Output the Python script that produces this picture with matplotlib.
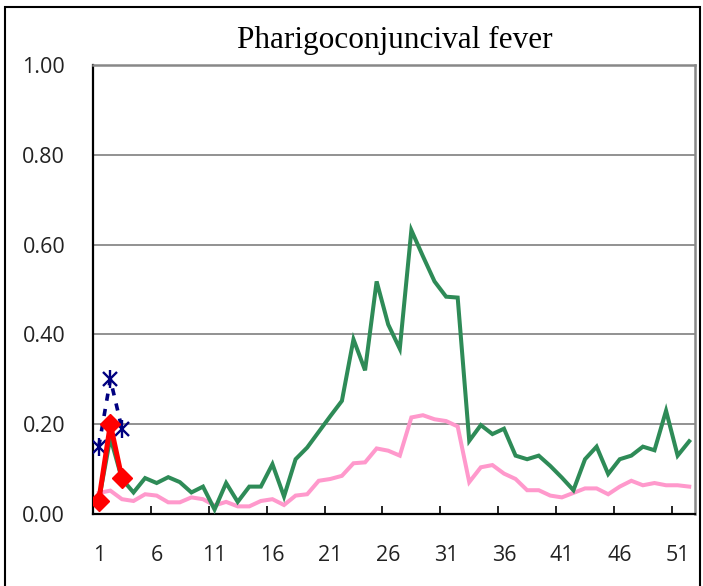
import matplotlib
matplotlib.use("Agg")
import matplotlib.pyplot as plt
from matplotlib.patches import Rectangle

weeks = list(range(1, 53))
green = [0.03, 0.17, 0.078, 0.048, 0.08, 0.069, 0.082, 0.071, 0.048, 0.061,
         0.01, 0.069, 0.027, 0.061, 0.061, 0.111, 0.039, 0.122, 0.148, 0.183,
         0.218, 0.252, 0.389, 0.32, 0.518, 0.422, 0.368, 0.632, 0.574, 0.518,
         0.484, 0.482, 0.163, 0.198, 0.178, 0.19, 0.13, 0.122, 0.13, 0.107,
         0.081, 0.053, 0.122, 0.15, 0.089, 0.122, 0.13, 0.15, 0.142, 0.23,
         0.13, 0.162]
pink = [0.047, 0.052, 0.033, 0.029, 0.044, 0.041, 0.026, 0.026, 0.037, 0.033,
        0.019, 0.027, 0.017, 0.017, 0.029, 0.033, 0.02, 0.041, 0.044, 0.074,
        0.078, 0.085, 0.113, 0.115, 0.146, 0.141, 0.13, 0.215, 0.22, 0.211,
        0.207, 0.195, 0.071, 0.104, 0.109, 0.09, 0.078, 0.053, 0.053, 0.041,
        0.037, 0.047, 0.057, 0.057, 0.044, 0.061, 0.074, 0.064, 0.069, 0.064,
        0.064, 0.061]
red_weeks = [1, 2, 3]
red = [0.03, 0.20, 0.08]
navy_weeks = [1, 2, 3]
navy = [0.15, 0.30, 0.19]

title = "Pharigoconjuncival fever"
xtick_labels = [1, 6, 11, 16, 21, 26, 31, 36, 41, 46, 51]
ytick_vals = [0.0, 0.2, 0.4, 0.6, 0.8, 1.0]

W, H = 703, 586
fig = plt.figure(figsize=(W / 100, H / 100), dpi=100)
fig.patch.set_facecolor("white")
left, right, top, bottom = 93, 695, 65, 514
ax = fig.add_axes([left / W, 1 - bottom / H, (right - left) / W, (bottom - top) / H])

ax.set_xlim(0.5, 52.5)
ax.set_ylim(0, 1.0)

for v in ytick_vals[1:-1]:
    ax.axhline(v, color="#7f7f7f", lw=1.2, zorder=1)

ax.plot(weeks, pink, color="#FF99CC", lw=2.9, zorder=3, solid_joinstyle="miter")
ax.plot(weeks, green, color="#2E8B57", lw=2.9, zorder=4, solid_joinstyle="miter")
ax.plot(navy_weeks, navy, color="#000080", lw=2.6, ls=(0, (2.0, 2.3)), zorder=5)
ax.plot(navy_weeks, navy, ls="none", marker="x", ms=10.5, mew=1.7, color="#000080", zorder=6)
ax.plot(navy_weeks, navy, ls="none", marker="|", ms=13, mew=1.7, color="#000080", zorder=6)
ax.plot(red_weeks, red, color="#FF0000", lw=3.6, marker="D", ms=10,
        mfc="#FF0000", mec="#FF0000", zorder=7)

ax.set_xticks(xtick_labels)
ax.set_xticklabels([str(v) for v in xtick_labels])
ax.set_xticks([5.5 + 5 * i for i in range(10)], minor=True)
ax.tick_params(axis="x", which="major", length=0, pad=22)
ax.tick_params(axis="x", which="minor", direction="in", length=6, width=1.2, color="black")
ax.set_yticks(ytick_vals)
ax.set_yticklabels([f"{v:.2f}" for v in ytick_vals])
ax.tick_params(axis="y", length=0, pad=20)
for lab in ax.get_xticklabels() + ax.get_yticklabels():
    lab.set_fontfamily("Open Sans")
    lab.set_fontsize(15.5)
    lab.set_color("#222222")

ax.spines["left"].set_color("black")
ax.spines["left"].set_linewidth(1.6)
ax.spines["bottom"].set_color("black")
ax.spines["bottom"].set_linewidth(1.6)
ax.spines["top"].set_color("#888888")
ax.spines["top"].set_linewidth(1.8)
ax.spines["right"].set_color("#888888")
ax.spines["right"].set_linewidth(1.8)

fig.text(395 / W, 1 - 40 / H, title, family="Liberation Serif", fontsize=22.5,
         ha="center", va="center", color="black")

fig.patches.append(Rectangle((5 / W, -0.05), 695 / W, 1.05 - 7 / H,
                             transform=fig.transFigure, fill=False,
                             edgecolor="black", lw=1.5))

fig.savefig("out.png", dpi=100)
